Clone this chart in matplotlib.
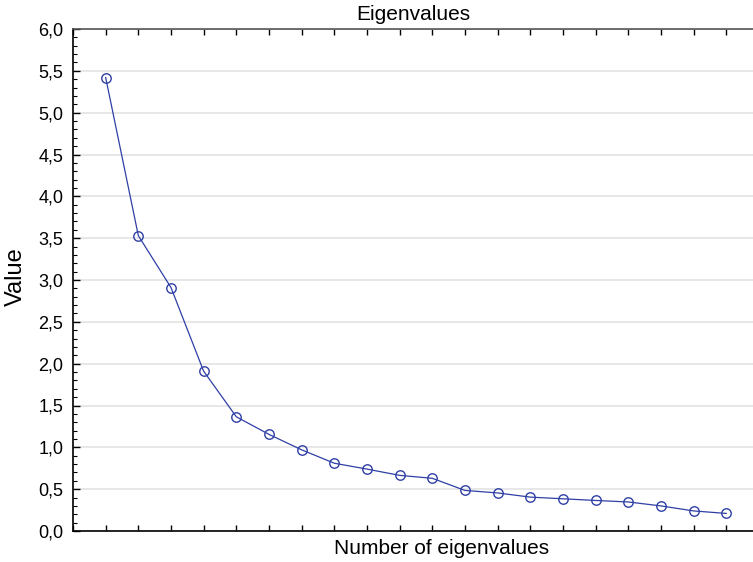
import matplotlib
matplotlib.use("Agg")
import matplotlib.pyplot as plt
from matplotlib.ticker import MultipleLocator, FuncFormatter

plt.rcParams['font.family'] = ['Liberation Sans', 'DejaVu Sans']

# Eigenvalues in descending order
components = list(range(1, 21))
eigenvalues = [5.42, 3.53, 2.91, 1.91, 1.365, 1.155, 0.97, 0.81, 0.74, 0.665,
               0.63, 0.485, 0.455, 0.405, 0.385, 0.365, 0.347, 0.30, 0.24, 0.21]

title = "Eigenvalues"
xlabel = "Number of eigenvalues"
ylabel = "Value"

W, H = 753, 562
fig = plt.figure(figsize=(W / 100, H / 100), dpi=100)
ax = fig.add_axes([73 / W, 1 - 531 / H, 680 / W, 502 / H])

ax.plot(components, eigenvalues, color="#2f3fa5", linewidth=0.9,
        marker="o", markersize=6.8, markerfacecolor="none",
        markeredgecolor="#2f3fa5", markeredgewidth=1.0, zorder=3)

ax.set_xlim(0, 20.82)
ax.set_ylim(0, 6.0)

ax.yaxis.set_major_locator(MultipleLocator(0.5))
ax.yaxis.set_minor_locator(MultipleLocator(0.1))
ax.xaxis.set_major_locator(MultipleLocator(1))
ax.yaxis.set_major_formatter(FuncFormatter(lambda v, p: f"{v:.1f}".replace(".", ",")))
ax.xaxis.set_major_formatter(FuncFormatter(lambda v, p: ""))

ax.grid(axis="y", which="major", color="#e3e3e3", linewidth=1.2, zorder=0)
ax.set_axisbelow(True)

ax.tick_params(axis="x", which="major", direction="in", top=True, bottom=True,
               length=4, width=1, color="black")
ax.tick_params(axis="y", which="major", direction="in", left=True, right=False,
               length=5, width=1, color="black", labelsize=13, pad=7)
ax.tick_params(axis="y", which="minor", direction="in", left=True, right=False,
               length=3, width=0.8, color="black")

for side in ("left", "bottom"):
    ax.spines[side].set_color("black")
    ax.spines[side].set_linewidth(1.2)
ax.spines["top"].set_color("#555555")
ax.spines["top"].set_linewidth(1.2)
ax.spines["right"].set_visible(False)

# Title and axis labels placed in figure pixel coordinates
fig.text(413 / W, 1 - 15 / H, title, fontsize=15, ha="center", va="center")
fig.text(442 / W, 1 - 548 / H, xlabel, fontsize=15, ha="center", va="center")
fig.text(16 / W, 1 - 277 / H, ylabel, fontsize=17, ha="center", va="center",
         rotation=90)

fig.savefig("out.png", dpi=100)
